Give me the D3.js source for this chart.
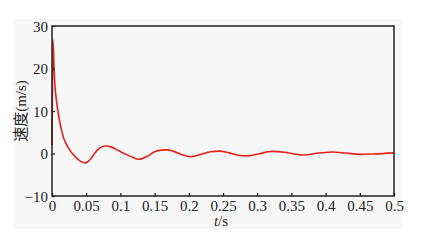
<!DOCTYPE html>
<html>
<head>
<meta charset="utf-8">
<script src="https://cdn.jsdelivr.net/npm/d3@7"></script>
<style>
  body { margin: 0; background: #fff; }
</style>
</head>
<body>
<div id="chart"></div>
<script>
// time (s) and velocity (m/s)
const times = [0, 0.0015, 0.003, 0.0045, 0.0065, 0.0092, 0.0125, 0.0165, 0.021, 0.026,
  0.032, 0.038, 0.044, 0.048, 0.052, 0.057, 0.063, 0.069, 0.0775, 0.087,
  0.097, 0.108, 0.118, 0.127, 0.14, 0.15, 0.16, 0.168, 0.178,
  0.19, 0.204, 0.218, 0.232, 0.245, 0.258, 0.272, 0.287, 0.302,
  0.322, 0.34, 0.366, 0.39, 0.41, 0.43, 0.45, 0.47, 0.5];
const speeds = [2, 26.7, 20, 15.5, 12.5, 9.4, 6.5, 3.9, 2.2, 0.8,
  -0.4, -1.4, -2.0, -2.2, -2.0, -1.2, 0.2, 1.2, 1.75, 1.5,
  0.7, -0.2, -0.9, -1.35, -0.6, 0.4, 0.8, 0.85, 0.5,
  -0.3, -0.75, -0.2, 0.4, 0.55, 0.2, -0.4, -0.55, -0.1,
  0.5, 0.3, -0.35, 0.1, 0.35, 0.1, -0.2, -0.1, 0.15];
const xTicks = [0, 0.05, 0.1, 0.15, 0.2, 0.25, 0.3, 0.35, 0.4, 0.45, 0.5];
const yTicks = [-10, 0, 10, 20, 30];

const FONT = "'Liberation Serif', 'DejaVu Serif', serif";
const CJK = "'Noto Sans CJK SC', sans-serif";
const W = 446, H = 241;
const margin = { top: 26, right: 52, bottom: 45, left: 52 };

const svg = d3.select("#chart").append("svg")
  .attr("width", W).attr("height", H);

// light grey panel behind the figure
svg.append("rect")
  .attr("x", 13).attr("y", 19)
  .attr("width", 390).attr("height", 210)
  .attr("fill", "#f7f7f7");

const x = d3.scaleLinear().domain([0, 0.5]).range([margin.left, W - margin.right]);
const y = d3.scaleLinear().domain([-10, 30]).range([H - margin.bottom, margin.top]);

const data = times.map((t, i) => ({ t: t, v: speeds[i] }));

const line = d3.line()
  .curve(d3.curveMonotoneX)
  .x(d => x(d.t))
  .y(d => y(d.v));

svg.append("path")
  .datum(data)
  .attr("d", line)
  .attr("fill", "none")
  .attr("stroke", "#e8201c")
  .attr("stroke-width", 1.6);

const xAxis = d3.axisBottom(x).tickValues(xTicks)
  .tickFormat(d => d === 0 ? "0" : d3.format("")(d))
  .tickSizeInner(-3).tickSizeOuter(0).tickPadding(4);
const yAxis = d3.axisLeft(y).tickValues(yTicks)
  .tickSizeInner(-3).tickSizeOuter(0).tickPadding(4);

const gx = svg.append("g")
  .attr("transform", "translate(0," + (H - margin.bottom) + ")")
  .call(xAxis);
const gy = svg.append("g")
  .attr("transform", "translate(" + margin.left + ",0)")
  .call(yAxis);

[gx, gy].forEach(g => {
  g.attr("font-family", null).attr("font-size", null);
  g.selectAll("path").remove();
  g.selectAll("line").attr("stroke", "#222").attr("stroke-width", 1.2);
  g.selectAll("text")
    .style("font-family", FONT)
    .style("font-size", "15px")
    .attr("fill", "#222");
});
gx.selectAll("text").attr("dy", "0.71em");
gy.selectAll("text").attr("dy", "0.35em");

// frame
svg.append("rect")
  .attr("x", margin.left).attr("y", margin.top)
  .attr("width", W - margin.left - margin.right)
  .attr("height", H - margin.top - margin.bottom)
  .attr("fill", "none")
  .attr("stroke", "#222")
  .attr("stroke-width", 1.5);

// axis titles
const xl = svg.append("text")
  .attr("x", x(0.25) - 2).attr("y", 226)
  .attr("text-anchor", "middle")
  .style("font-family", FONT)
  .style("font-size", "15px")
  .attr("fill", "#222");
xl.append("tspan").style("font-style", "italic").text("t");
xl.append("tspan").text("/s");

const yl = svg.append("text")
  .attr("transform", "translate(26," + y(10) + ") rotate(-90)")
  .attr("text-anchor", "middle")
  .style("font-size", "15px")
  .attr("fill", "#222");
yl.append("tspan").style("font-family", CJK).text("速度");
yl.append("tspan").style("font-family", FONT).text("(m/s)");
</script>
</body>
</html>
